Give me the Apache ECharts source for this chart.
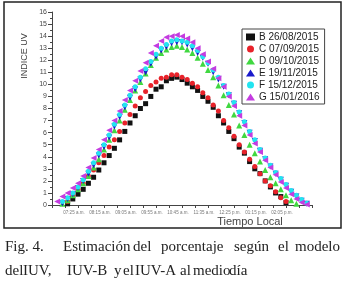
<!DOCTYPE html>
<html>
<head>
<meta charset="utf-8">
<script src="https://cdn.jsdelivr.net/npm/echarts@6/dist/echarts.min.js"></script>
<style>
  html, body { margin: 0; padding: 0; background: #fff; }
  #chart { width: 344px; height: 286px; }
</style>
</head>
<body>
<div id="chart"></div>
<script>
// minutes after 06:35 (one reading every 10 min)
const minutes = [10, 20, 30, 40, 50, 60, 70, 80, 90, 100, 110, 120, 130, 140, 150, 160, 170, 180, 190, 200,
  210, 220, 230, 240, 250, 260, 270, 280, 290, 300, 310, 320, 330, 340, 350, 360, 370, 380, 390, 400,
  410, 420, 430, 440, 450, 460, 470, 480, 490];

const tickLabels = ['07:25 a.m.', '08:15 a.m.', '09:05 a.m.', '09:55 a.m.', '10:45 a.m.',
  '11:35 a.m.', '12:25 p.m.', '01:15 p.m.', '02:05 p.m.'];

const seriesB = [null, null, 0.1, 0.5, 0.9, 1.3, 1.8, 2.3, 2.9, 3.5, 4.1, 4.7, 5.4, 6.1, 6.8, 7.4, 8.0, 8.4, 9.0, 9.6,
  9.8, 10.3, 10.5, 10.6, 10.4, 10.1, 9.8, 9.5, 9.0, 8.6, 8.1, 7.4, 6.8, 6.1, 5.5, 4.8, 4.3, 3.6, 3.0, 2.6,
  2.0, 1.5, 1.0, 0.7, 0.2, null, null, null, null];
const seriesC = [null, null, 0.3, 0.8, 1.3, 1.8, 2.4, 2.9, 3.5, 4.1, 4.8, 5.4, 6.1, 6.8, 7.5, 8.2, 8.9, 9.4, 9.9, 10.2,
  10.5, 10.6, 10.8, 10.8, 10.6, 10.4, 10.1, 9.8, 9.3, 8.9, 8.3, 7.8, 7.0, 6.4, 5.7, 5.0, 4.4, 3.8, 3.2, 2.6,
  2.0, 1.6, 1.1, 0.6, 0.3, null, null, null, null];
const seriesD = [null, 0.1, 0.4, 0.8, 1.3, 1.8, 2.4, 3.1, 3.8, 4.6, 5.4, 6.2, 7.0, 7.9, 8.7, 9.5, 10.2, 10.9, 11.6, 12.2,
  12.6, 12.9, 13.1, 13.2, 13.1, 12.9, 12.6, 12.2, 11.7, 11.2, 10.6, 9.9, 9.1, 8.3, 7.5, 6.6, 5.8, 5.0, 4.3, 3.6,
  2.9, 2.3, 1.8, 1.3, 0.8, 0.4, 0.1, null, null];
const seriesE = [null, 0.15, 0.5, 0.9, 1.4, 2.0, 2.6, 3.3, 4.1, 4.8, 5.6, 6.5, 7.3, 8.1, 8.9, 9.6, 10.4, 11.0, 11.7, 12.3,
  12.8, 13.1, 13.4, 13.5, 13.5, 13.3, 13.0, 12.6, 12.2, 11.7, 11.0, 10.4, 9.8, 9.1, 8.4, 7.6, 6.8, 6.0, 5.3, 4.5,
  3.8, 3.2, 2.6, 2.1, 1.6, 1.1, 0.7, 0.35, 0.1];
const seriesF = [null, 0.3, 0.6, 1.0, 1.5, 2.1, 2.8, 3.5, 4.3, 5.0, 5.8, 6.7, 7.5, 8.3, 9.1, 9.8, 10.6, 11.3, 11.9, 12.5,
  13.0, 13.3, 13.6, 13.7, 13.6, 13.5, 13.2, 12.8, 12.3, 11.8, 11.2, 10.6, 9.9, 9.2, 8.5, 7.7, 6.9, 6.1, 5.4, 4.6,
  3.9, 3.3, 2.7, 2.2, 1.7, 1.2, 0.8, 0.45, 0.15];
const seriesG = [0.3, 0.7, 1.0, 1.4, 1.8, 2.4, 3.1, 3.9, 4.6, 5.4, 6.2, 7.0, 7.8, 8.7, 9.5, 10.3, 11.1, 11.8, 12.6, 13.2,
  13.6, 13.9, 14.0, 14.1, 14.0, 13.8, 13.5, 13.0, 12.5, 11.9, 11.3, 10.5, 9.8, 9.0, 8.2, 7.4, 6.6, 5.8, 5.1, 4.4,
  3.7, 3.1, 2.5, 1.9, 1.4, 0.9, 0.5, 0.2, 0.05];

const names = ['B 26/08/2015', 'C 07/09/2015', 'D 09/10/2015', 'E 19/11/2015', 'F 15/12/2015', 'G 15/01/2016'];

const SANS = "'Liberation Sans', Arial, sans-serif";
const SERIF = "'Liberation Serif', 'Times New Roman', serif";

function pairs(vals) {
  const out = [];
  vals.forEach((v, i) => { if (v !== null) out.push([minutes[i], v]); });
  return out;
}

function scatter(name, vals, color, symbol, rotate, size) {
  return {
    name: name,
    type: 'scatter',
    data: pairs(vals),
    symbol: symbol,
    symbolRotate: rotate,
    symbolSize: size,
    itemStyle: { color: color, opacity: 1 },
    emphasis: { disabled: true },
  };
}

// caption words (justified like the printed figure)
function word(text, x, y, align) {
  return {
    type: 'text', x: x, y: y,
    style: { text: text, font: '15px ' + SERIF, fill: '#222', align: align || 'left', verticalAlign: 'middle' },
  };
}

const chart = echarts.init(document.getElementById('chart'));

const option = {
  animation: false,
  textStyle: { fontFamily: SANS },
  grid: { left: 52, right: 32, top: 12, bottom: 81 },
  legend: {
    orient: 'vertical',
    left: 242,
    top: 29,
    padding: [3, 5, 2, 4],
    itemGap: 2,
    itemWidth: 9,
    itemHeight: 7,
    borderColor: '#444',
    borderWidth: 1,
    textStyle: { fontFamily: SANS, fontSize: 10, color: '#222', padding: [0, 0, 0, -1] },
    data: names,
  },
  xAxis: {
    type: 'value',
    min: 0,
    max: 500,
    interval: 25,
    axisLine: { onZero: false, lineStyle: { color: '#444', width: 1 } },
    axisTick: { inside: false, length: 3, lineStyle: { color: '#444' } },
    splitLine: { show: false },
    axisLabel: {
      fontFamily: SANS,
      fontSize: 4.5,
      color: '#777',
      margin: 5,
      padding: [0, 8, 0, 0],
      formatter: function (v) {
        if (v % 50 !== 0 || v === 0 || v > 450) return '';
        return tickLabels[v / 50 - 1];
      },
    },
  },
  yAxis: {
    type: 'value',
    min: 0,
    max: 16,
    interval: 1,
    axisLine: { show: true, lineStyle: { color: '#444', width: 1 } },
    axisTick: { show: true, length: 4, lineStyle: { color: '#444' } },
    minorTick: { show: true, splitNumber: 2, length: 2, lineStyle: { color: '#444' } },
    splitLine: { show: false },
    axisLabel: { fontFamily: SANS, fontSize: 7, color: '#444', margin: 5 },
  },
  graphic: [
    { type: 'rect', shape: { x: 4, y: 2, width: 337, height: 226 },
      style: { fill: 'none', stroke: '#222', lineWidth: 1.5 } },
    { type: 'text', x: 25, y: 56, rotation: Math.PI / 2,
      style: { text: 'INDICE UV', font: '9px ' + SANS, fill: '#444', align: 'center', verticalAlign: 'middle' } },
    { type: 'text', x: 250, y: 222,
      style: { text: 'Tiempo Local', font: '11px ' + SANS, fill: '#444', align: 'center', verticalAlign: 'middle' } },
    word('Fig. 4.', 5, 247),
    word('Estimación', 63, 247),
    word('del', 133, 247),
    word('porcentaje', 161, 247),
    word('según', 234, 247),
    word('el', 278, 247),
    word('modelo', 340, 247, 'right'),
    word('del', 5, 271),
    word('IUV,', 23, 271),
    word('IUV-B', 67, 271),
    word('y', 114, 271),
    word('el', 123, 271),
    word('IUV-A', 135, 271),
    word('al', 180, 271),
    word('medio', 193, 271),
    word('día', 229, 271),
  ],
  series: [
    scatter(names[0], seriesB, '#111111', 'rect', 0, 5),
    scatter(names[1], seriesC, '#e8222a', 'circle', 0, 5),
    scatter(names[2], seriesD, '#40d840', 'triangle', 0, 6),
    scatter(names[3], seriesE, '#1a1acc', 'triangle', 180, 6),
    scatter(names[4], seriesF, '#22e4f0', 'circle', 0, 5),
    scatter(names[5], seriesG, '#c43ce0', 'triangle', 90, 6),
  ],
};

chart.setOption(option);
</script>
</body>
</html>
